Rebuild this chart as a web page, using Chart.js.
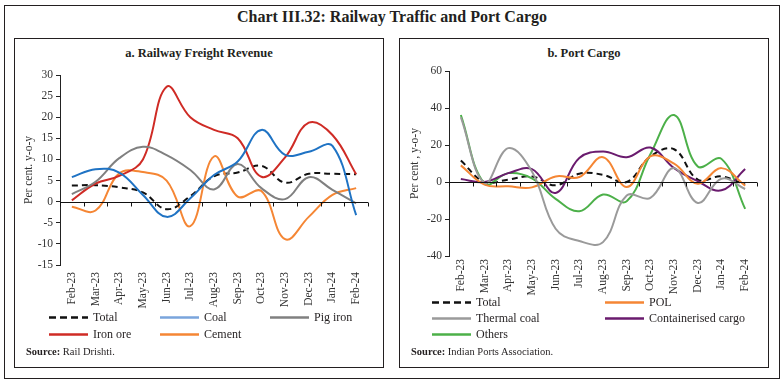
<!DOCTYPE html>
<html><head><meta charset="utf-8">
<script src="https://cdn.jsdelivr.net/npm/chart.js@4.4.1/dist/chart.umd.min.js"></script>
<style>
html,body{margin:0;padding:0;background:#fff;}
#wrap{position:relative;width:784px;height:384px;overflow:hidden;font-family:"Liberation Serif",serif;color:#231f20;}
.box{position:absolute;border:1px solid #231f20;box-sizing:border-box;}
canvas{position:absolute;top:0;}
.t{position:absolute;white-space:nowrap;}
</style></head>
<body><div id="wrap">
<div class="box" style="left:4px;top:5px;width:776px;height:374px;"></div>
<div class="box" style="left:14px;top:38px;width:370px;height:330px;"></div>
<div class="box" style="left:399px;top:38px;width:370px;height:330px;"></div>
<div class="t" style="left:0;width:784px;text-align:center;top:7px;line-height:20px;font-size:16px;font-weight:bold;">Chart III.32: Railway Traffic and Port Cargo</div>
<div class="t" style="left:14px;width:370px;text-align:center;top:45px;line-height:16px;font-size:12.5px;font-weight:bold;">a. Railway Freight Revenue</div>
<div class="t" style="left:399px;width:370px;text-align:center;top:45px;line-height:16px;font-size:12.5px;font-weight:bold;">b. Port Cargo</div>
<canvas id="c1" width="392" height="384" style="left:0;"></canvas>
<canvas id="c2" width="392" height="384" style="left:392px;"></canvas>
<div class="t" style="left:26px;top:345px;line-height:14px;font-size:10.5px;"><b>Source:</b> Rail Drishti.</div>
<div class="t" style="left:411px;top:345px;line-height:14px;font-size:10.5px;"><b>Source:</b> Indian Ports Association.</div>
<div id="leg"></div>
</div>
<script>
// ---- Data ----
const months = ["Feb-23","Mar-23","Apr-23","May-23","Jun-23","Jul-23","Aug-23","Sep-23","Oct-23","Nov-23","Dec-23","Jan-24","Feb-24"];

// Panel a: Railway Freight Revenue (per cent, y-o-y)
const railTotal   = [3.8, 3.9, 3.4, 2.2, -1.8, 1.3, 6.0, 6.9, 8.5, 4.5, 6.6, 6.6, 6.5];
const railCoal    = [5.8, 7.7, 6.9, 1.6, -3.6, 0.8, 6.3, 9.5, 17.0, 11.1, 11.8, 13.2, -3.2];
const railPigIron = [1.8, 4.7, 10.3, 13.0, 11.0, 7.5, 2.9, 8.9, 3.2, 0.6, 5.8, 2.8, -0.4];
const railIronOre = [0.3, 4.3, 6.1, 10.0, 27.2, 20.0, 17.0, 15.0, 5.9, 10.5, 18.7, 15.8, 6.5];
const railCement  = [-1.2, -2.1, 6.7, 7.0, 5.0, -5.8, 10.7, 1.2, 2.5, -8.9, -3.6, 1.6, 3.2];
const railTicks = {min: -15, max: 30, step: 5};

// Panel b: Port Cargo (per cent, y-o-y)
const portTotal     = [11.6, 0.0, 1.3, 3.0, -1.8, 4.5, 3.9, 0.0, 13.8, 17.7, 1.3, 3.0, -1.4];
const portPOL       = [9.0, -1.4, -2.3, -2.9, 3.0, 2.7, 13.4, -2.7, 13.8, 9.9, -0.9, 7.5, -2.0];
const portThermal   = [35.0, -0.5, 18.3, 5.7, -25.3, -31.9, -32.5, -7.3, -8.6, 7.5, -11.3, 1.8, -3.8];
const portContainer = [1.6, 0.0, 4.8, 7.0, -5.9, 13.0, 16.5, 13.4, 18.6, 7.5, 0.4, -4.5, 7.0];
const portOthers    = [36.2, -0.9, 4.8, 2.0, -9.1, -15.8, -6.8, -10.4, 15.0, 36.2, 8.4, 12.5, -14.5];
const portTicks = {min: -40, max: 60, step: 20};

// ---- Styles ----
const FONT = '"Liberation Serif", serif';
const TXT = '#333333';
const C = {total:'#111111', coal:'#1f73c4', coalLeg:'#7aa5dc', pig:'#808080', iron:'#cf2b25', cement:'#f58634',
           pol:'#f58634', thermal:'#9a9a9a', cont:'#6a1b6e', others:'#4cb049'};

function ds(label, data, color, dashed){
  return {label, data, borderColor: color, backgroundColor: color, borderWidth: 2,
          borderDash: dashed ? [6,4] : [], pointRadius: 0, tension: 0.4, fill: false};
}

const zeroAxis = {
  id: 'zeroAxis',
  afterDatasetsDraw(chart){
    const {ctx, chartArea, scales} = chart;
    const y0 = Math.round(scales.y.getPixelForValue(0)) + 0.5;
    const xs = scales.x;
    const n = chart.data.labels.length;
    const step = (xs.getPixelForValue(1) - xs.getPixelForValue(0));
    ctx.save();
    ctx.strokeStyle = '#111';
    ctx.lineWidth = 1;
    ctx.beginPath();
    ctx.moveTo(chartArea.left, y0);
    ctx.lineTo(chartArea.right, y0);
    for (let i = 0; i <= n; i++){
      const x = Math.round(xs.getPixelForValue(0) - step/2 + i*step) + 0.5;
      ctx.moveTo(x, y0);
      ctx.lineTo(x, y0 + 4);
    }
    ctx.stroke();
    ctx.restore();
  }
};

function mk(id, datasets, tk, yTitle, cfg){
  return new Chart(document.getElementById(id), {
    type: 'line',
    data: {labels: months, datasets},
    options: {
      responsive: false, animation: false, devicePixelRatio: 1,
      layout: {padding: {left: 0, top: cfg.top, right: cfg.right, bottom: 0}},
      plugins: {legend: {display: false}, tooltip: {enabled: false}, title: {display: false}},
      scales: {
        x: {type: 'category', offset: true,
            grid: {display: false, drawTicks: false}, border: {display: false},
            ticks: {minRotation: 90, maxRotation: 90, autoSkip: false, padding: cfg.xpad,
                    color: TXT, font: {family: FONT, size: 11.5}},
            afterFit: s => { s.height = cfg.xh; }},
        y: {min: tk.min, max: tk.max,
            ticks: {stepSize: tk.step, color: TXT, padding: 3, font: {family: FONT, size: 11.5}},
            grid: {drawOnChartArea: false, drawTicks: true, tickLength: 4, color: '#222'},
            border: {display: true, color: '#222', width: 1},
            title: {display: true, text: yTitle, color: TXT, font: {family: FONT, size: 11.5},
                    padding: {top: cfg.tpad, bottom: 0}},
            afterFit: s => { s.width = cfg.yw; }}
      }
    },
    plugins: [zeroAxis]
  });
}

mk('c1', [
  ds('Coal', railCoal, C.coal),
  ds('Pig iron', railPigIron, C.pig),
  ds('Iron ore', railIronOre, C.iron),
  ds('Cement', railCement, C.cement),
  ds('Total', railTotal, C.total, true)
], railTicks, 'Per cent. y-o-y', {top: 75, right: 24, xh: 119, yw: 60, xpad: 7, tpad: 22});

mk('c2', [
  ds('Thermal coal', portThermal, C.thermal),
  ds('POL', portPOL, C.pol),
  ds('Containerised cargo', portContainer, C.cont),
  ds('Others', portOthers, C.others),
  ds('Total', portTotal, C.total, true)
], portTicks, 'Per cent , y-o-y', {top: 71, right: 27, xh: 128, yw: 57, xpad: 3, tpad: 16});

// ---- Legends (HTML) ----
const legendItems = [
  ['Total', C.total, true, 49, 317], ['Coal', C.coalLeg, false, 160, 317], ['Pig iron', C.pig, false, 270, 317],
  ['Iron ore', C.iron, false, 49, 334], ['Cement', C.cement, false, 160, 334],
  ['Total', C.total, true, 432, 302], ['POL', C.pol, false, 605, 302],
  ['Thermal coal', C.thermal, false, 432, 318], ['Containerised cargo', C.cont, false, 605, 318],
  ['Others', C.others, false, 432, 334]
];
const leg = document.getElementById('leg');
legendItems.forEach(([txt, col, dashed, x, y]) => {
  const d = document.createElement('div');
  d.className = 't';
  d.style.left = x + 'px';
  d.style.top = (y - 8) + 'px';
  d.style.lineHeight = '16px';
  d.style.fontSize = '12px';
  d.innerHTML = '<svg width="40" height="16" style="vertical-align:top"><line x1="0" y1="8.5" x2="39" y2="8.5" stroke="' + col +
    '" stroke-width="2.5"' + (dashed ? ' stroke-dasharray="7 4"' : '') + '/></svg><span style="margin-left:4px;vertical-align:top">' + txt + '</span>';
  leg.appendChild(d);
});
</script>
</body></html>
